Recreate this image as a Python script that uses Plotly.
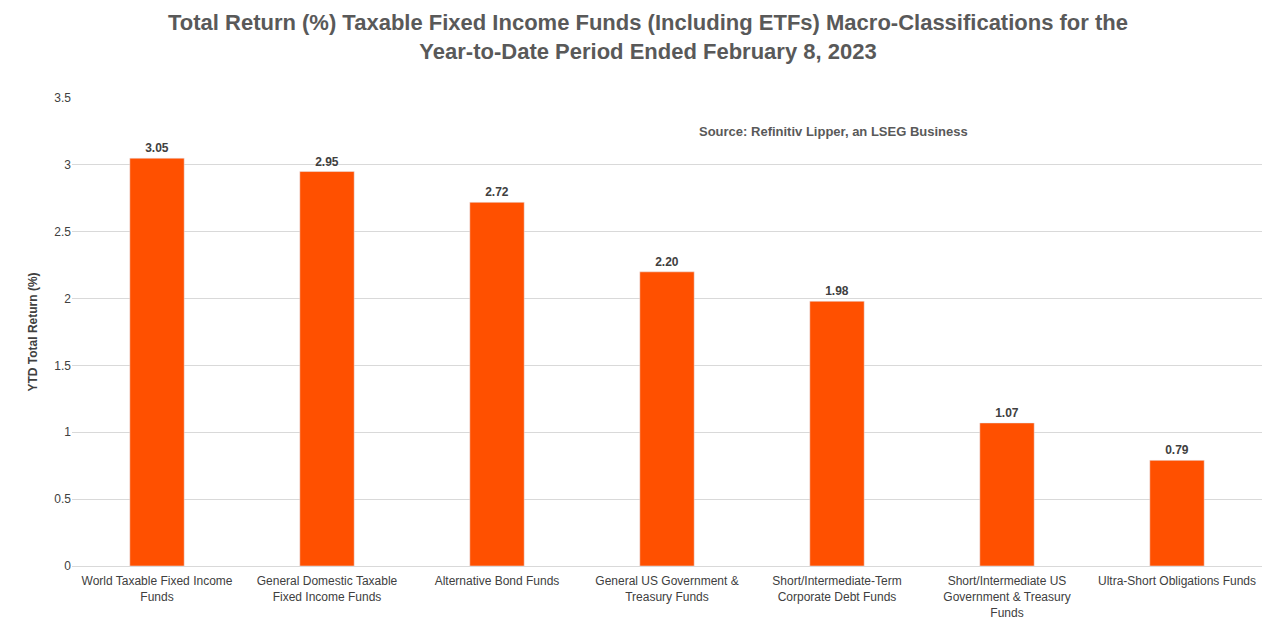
import plotly.graph_objects as go

categories = ["World Taxable Fixed Income<br>Funds", "General Domestic Taxable<br>Fixed Income Funds",
              "Alternative Bond Funds", "General US Government &<br>Treasury Funds",
              "Short/Intermediate-Term<br>Corporate Debt Funds",
              "Short/Intermediate US<br>Government & Treasury<br>Funds", "Ultra-Short Obligations Funds"]
values = [3.05, 2.95, 2.72, 2.20, 1.98, 1.07, 0.79]

font = "Liberation Sans"
fig = go.Figure(go.Bar(x=categories, y=values, marker_color="#FF5000",
                       text=[f"<b>{v:.2f}</b>" for v in values], textposition="outside",
                       textfont=dict(size=12, color="#404040", family=font), cliponaxis=False))
fig.update_layout(
    width=1280, height=634, plot_bgcolor="white", paper_bgcolor="white",
    margin=dict(l=64, r=26, t=90, b=76), bargap=0.68, showlegend=False,
    title=dict(text="<b>Total Return (%) Taxable Fixed Income Funds (Including ETFs) Macro-Classifications for the<br>Year-to-Date Period Ended February 8, 2023</b>",
               x=0.5, xanchor="center", y=0.965, yanchor="top",
               font=dict(size=22, color="#595959", family=font)),
    font=dict(family=font, size=12, color="#404040"),
    annotations=[dict(text="<b>Source: Refinitiv Lipper, an LSEG Business</b>", xref="paper", yref="y",
                      x=0.755, y=3.25, showarrow=False, font=dict(size=13, color="#595959"))],
)
fig.update_xaxes(showline=True, linecolor="#d9d9d9", tickfont=dict(size=12, color="#404040"), ticks="",
                 automargin=False, ticklabelstandoff=4)
fig.update_yaxes(range=[0, 3.5], gridcolor="#d9d9d9", zeroline=False, automargin=False,
                 tickvals=[0, 0.5, 1, 1.5, 2, 2.5, 3, 3.5], ticktext=["0", "0.5", "1", "1.5", "2", "2.5", "3", "3.5"],
                 title=dict(text="<b>YTD Total Return (%)</b>", font=dict(size=12, color="#404040"), standoff=14))
fig.write_html("out.html")
